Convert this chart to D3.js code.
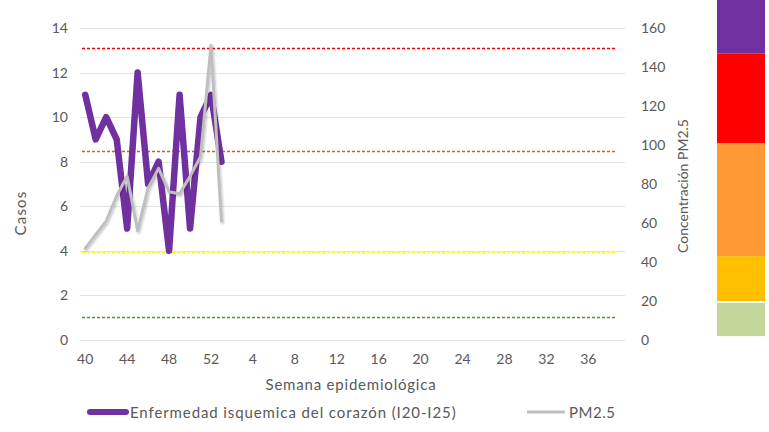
<!DOCTYPE html>
<html>
<head>
<meta charset="utf-8">
<script src="https://cdn.jsdelivr.net/npm/d3@7"></script>
<style>
  body { margin: 0; background: #fff; }
  text { font-family: Lato, "Open Sans", sans-serif; fill: #595959; }
</style>
</head>
<body>
<svg id="chart" width="769" height="432"></svg>
<script>
// weeks 40..52 then 1..39
var weeks = d3.range(40, 53).concat(d3.range(1, 40));
var tickWeeks = [40, 44, 48, 52, 4, 8, 12, 16, 20, 24, 28, 32, 36];

var casos = [11, 9, 10, 9, 5, 12, 7, 8, 4, 11, 5, 10, 11, 8];
var pm25 = [47, 54, 61, 74, 84, 56, 78, 88, 76, 75, 84, 94, 151, 61];

var leftTicks = [0, 2, 4, 6, 8, 10, 12, 14];
var rightTicks = [0, 20, 40, 60, 80, 100, 120, 140, 160];

// threshold dashed lines (PM2.5 units)
var limits = [
  { v: 150, c: "#FF0000" },
  { v: 97, c: "#D0601A" },
  { v: 45, c: "#FFFF00" },
  { v: 12, c: "#5A8A38" }
];
// colour scale bar (PM2.5 units)
var bands = [
  { lo: 2, hi: 19, c: "#C4D79B" },
  { lo: 20, hi: 43, c: "#FFC000" },
  { lo: 43, hi: 101, c: "#FF9933" },
  { lo: 101, hi: 147, c: "#FF0000" },
  { lo: 147, hi: 175, c: "#7030A0" }
];

var margin = { top: 28, right: 144, bottom: 92, left: 80 },
    width = 769 - margin.left - margin.right,
    height = 432 - margin.top - margin.bottom;

var svg = d3.select("#chart");
var defs = svg.append("defs");
var shadow = defs.append("filter").attr("id", "shadow")
  .attr("x", "-10%").attr("y", "-10%").attr("width", "120%").attr("height", "120%");
shadow.append("feDropShadow")
  .attr("dx", 1).attr("dy", 1.5).attr("stdDeviation", 1.2)
  .attr("flood-color", "#000").attr("flood-opacity", 0.25);

var g = svg.append("g").attr("transform", "translate(" + margin.left + "," + margin.top + ")");

var x = d3.scaleBand().domain(weeks).range([0, width]);
var y = d3.scaleLinear().domain([0, 14]).range([height, 0]);
var y2 = d3.scaleLinear().domain([0, 160]).range([height, 0]);

// gridlines
g.append("g")
  .selectAll("line")
  .data(leftTicks)
  .join("line")
  .attr("x1", 0).attr("x2", width)
  .attr("y1", function (d) { return Math.round(y(d)) + 0.5; })
  .attr("y2", function (d) { return Math.round(y(d)) + 0.5; })
  .attr("stroke", "#E3E3E3")
  .attr("stroke-width", 1);

// left axis
var yAxis = g.append("g").call(d3.axisLeft(y).tickValues(leftTicks).tickSize(0).tickPadding(12));
yAxis.select(".domain").remove();
yAxis.selectAll("text").style("font-size", "14px");

// right axis
var yAxis2 = g.append("g").attr("transform", "translate(" + width + ",0)")
  .call(d3.axisRight(y2).tickValues(rightTicks).tickSize(0).tickPadding(16));
yAxis2.select(".domain").remove();
yAxis2.selectAll("text").style("font-size", "14px");

// x axis
var xAxis = g.append("g").attr("transform", "translate(0," + height + ")")
  .call(d3.axisBottom(x).tickValues(tickWeeks).tickSize(0).tickPadding(14));
xAxis.select(".domain").remove();
xAxis.selectAll("text").style("font-size", "14px");

// dashed limit lines
g.append("g")
  .selectAll("line")
  .data(limits)
  .join("line")
  .attr("x1", x(40) + 2).attr("x2", width - 8)
  .attr("y1", function (d) { return Math.round(y2(d.v)) + 0.5; })
  .attr("y2", function (d) { return Math.round(y2(d.v)) + 0.5; })
  .attr("stroke", function (d) { return d.c; })
  .attr("stroke-width", 1.4)
  .attr("stroke-dasharray", "3,2");

// series
var line1 = d3.line()
  .x(function (d, i) { return x(weeks[i]) + x.bandwidth() / 2; })
  .y(function (d) { return y(d); });
var line2 = d3.line()
  .x(function (d, i) { return x(weeks[i]) + x.bandwidth() / 2; })
  .y(function (d) { return y2(d); });

g.append("path").datum(casos)
  .attr("d", line1)
  .attr("fill", "none")
  .attr("stroke", "#7030A0")
  .attr("stroke-width", 6.5)
  .attr("stroke-linejoin", "round")
  .attr("stroke-linecap", "round");

g.append("path").datum(pm25)
  .attr("d", line2)
  .attr("fill", "none")
  .attr("stroke", "#BFBFBF")
  .attr("stroke-width", 3)
  .attr("stroke-linejoin", "round")
  .attr("stroke-linecap", "round")
  .attr("filter", "url(#shadow)");

// colour bar
svg.append("g")
  .selectAll("rect")
  .data(bands)
  .join("rect")
  .attr("x", 717)
  .attr("width", 48)
  .attr("y", function (d) { return margin.top + y2(d.hi); })
  .attr("height", function (d) { return y2(d.lo) - y2(d.hi); })
  .attr("fill", function (d) { return d.c; });

// titles
svg.append("text")
  .attr("transform", "translate(26,213) rotate(-90)")
  .attr("text-anchor", "middle")
  .style("font-size", "15px")
  .style("letter-spacing", "1.2px")
  .text("Casos");

svg.append("text")
  .attr("transform", "translate(688,186) rotate(-90)")
  .attr("text-anchor", "middle")
  .style("font-size", "14px")
  .text("Concentración PM2.5");

svg.append("text")
  .attr("x", 351).attr("y", 390)
  .attr("text-anchor", "middle")
  .style("font-size", "15px")
  .style("letter-spacing", "0.8px")
  .text("Semana epidemiológica");

// legend
var legend = svg.append("g");
legend.append("line")
  .attr("x1", 90).attr("x2", 126).attr("y1", 412).attr("y2", 412)
  .attr("stroke", "#7030A0").attr("stroke-width", 6).attr("stroke-linecap", "round");
legend.append("text")
  .attr("x", 130).attr("y", 418)
  .style("font-size", "15px")
  .style("letter-spacing", "0.9px")
  .text("Enfermedad isquemica del corazón (I20-I25)");
legend.append("line")
  .attr("x1", 527).attr("x2", 565).attr("y1", 412).attr("y2", 412)
  .attr("stroke", "#BFBFBF").attr("stroke-width", 3);
legend.append("text")
  .attr("x", 569).attr("y", 418)
  .style("font-size", "15px")
  .style("letter-spacing", "0.5px")
  .text("PM2.5");
</script>
</body>
</html>
